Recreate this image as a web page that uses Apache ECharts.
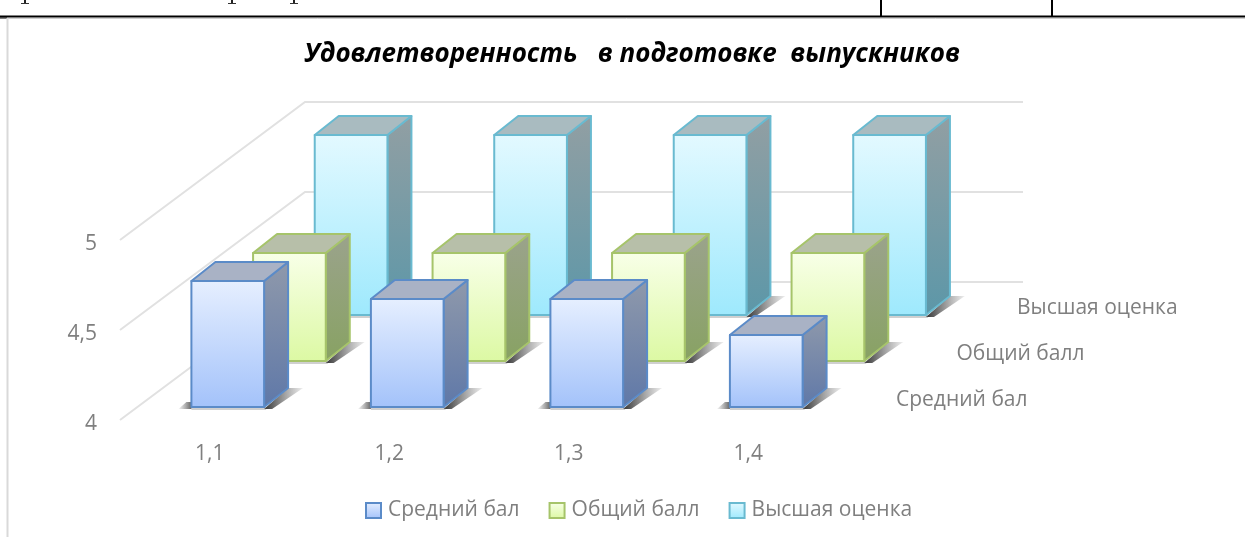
<!DOCTYPE html>
<html>
<head>
<meta charset="utf-8">
<style>html,body{margin:0;padding:0;background:#fff}#chart{width:1245px;height:537px}</style>
<script src="https://cdn.jsdelivr.net/npm/echarts@6/dist/echarts.min.js"></script>
</head>
<body>
<div id="chart"></div>
<script>
const categories = ['1,1', '1,2', '1,3', '1,4'];
const seriesNames = ['Средний бал', 'Общий балл', 'Высшая оценка'];
const srednij = [4.7, 4.6, 4.6, 4.4];
const obshij = [4.6, 4.6, 4.6, 4.6];
const vysshaya = [5, 5, 5, 5];
const yTicks = [4, 4.5, 5];

// front, top and side colours of each row
const palette = [
  { front: ['#e6efff', '#a3c2fa'], top: '#a9b2c5', side: ['#8f99ab', '#5f78a8'], line: '#5b8bc8' },
  { front: ['#f8ffe8', '#dcf9a3'], top: '#b7bfa9', side: ['#9ba38c', '#88a263'], line: '#a6c46a' },
  { front: ['#e3f9ff', '#9ee9fd'], top: '#a9bbc0', side: ['#929fa3', '#5c97a8'], line: '#69bad0' }
];

const font = '"Open Sans", sans-serif';
const grey = '#7f7f7f';

// the floor runs back up and to the right, split in 3 rows
const wallX = 185, wallY = -138;
const rowX = wallX / 3, rowY = wallY / 3;
const barNearX = 18, barNearY = -13;
const barDepthX = 24, barDepthY = -19;

const vgrad = (c) => new echarts.graphic.LinearGradient(0, 0, 0, 1, [
  { offset: 0, color: c[0] }, { offset: 1, color: c[1] }
]);
const hgrad = (a, b) => new echarts.graphic.LinearGradient(0, 0, 1, 0, [
  { offset: 0, color: a }, { offset: 1, color: b }
]);
const poly = (points, style) => ({ type: 'polygon', shape: { points: points }, style: style });

function renderBar(row) {
  return function (params, api) {
    const p = api.coord([api.value(0), api.value(1)]);
    const base = api.coord([api.value(0), 4]);
    const w = api.size([1, 0])[0] * 0.405;
    const c = palette[row];
    const x0 = p[0] + barNearX + rowX * row - w / 2;
    const x1 = x0 + w;
    const yb = base[1] + barNearY + rowY * row;
    const yt = p[1] + barNearY + rowY * row;
    const dx = barDepthX, dy = barDepthY;
    const line = { stroke: c.line, lineWidth: 2, lineJoin: 'round' };
    return {
      type: 'group',
      children: [
        // floor shadow, right, left and under the bar
        poly([[x1, yb + 2], [x1 + dx, yb + dy], [x1 + dx + 15, yb + dy], [x1 + 8, yb + 2]], {
          fill: hgrad('rgba(40,40,40,0.95)', 'rgba(90,90,90,0.1)')
        }),
        poly([[x0 - 13, yb + 2], [x0, yb + 2], [x0, yb - 5], [x0 - 5, yb - 5]], {
          fill: hgrad('rgba(90,90,90,0.05)', 'rgba(50,50,50,0.75)')
        }),
        poly([[x0, yb + 3], [x1 + 2, yb + 3], [x1 + 2, yb], [x0, yb]], { fill: 'rgba(120,120,120,0.35)' }),
        poly([[x1, yt], [x1 + dx, yt + dy], [x1 + dx, yb + dy], [x1, yb]], Object.assign({ fill: vgrad(c.side) }, line)),
        poly([[x0, yt], [x0 + dx, yt + dy], [x1 + dx, yt + dy], [x1, yt]], Object.assign({ fill: c.top }, line)),
        poly([[x0, yt], [x1, yt], [x1, yb], [x0, yb]], Object.assign({ fill: vgrad(c.front) }, line))
      ]
    };
  };
}

function renderGrid(params, api) {
  const y = api.coord([0, api.value(0)])[1];
  const left = params.coordSys.x;
  const right = left + params.coordSys.width;
  return {
    type: 'polyline',
    shape: { points: [[left, y], [left + wallX, y + wallY], [right + wallX, y + wallY]] },
    style: { fill: 'none', stroke: '#e1e1e1', lineWidth: 2 }
  };
}

function renderRowLabel(params, api) {
  const row = params.dataIndex;
  const right = params.coordSys.x + params.coordSys.width;
  const bottom = params.coordSys.y + params.coordSys.height;
  return {
    type: 'text',
    style: {
      text: seriesNames[row],
      x: right + 58 + 60.5 * row,
      y: bottom - 20 + rowY * row,
      fill: grey,
      font: '21px ' + font,
      textAlign: 'left',
      textVerticalAlign: 'middle'
    }
  };
}

const barSeries = [srednij, obshij, vysshaya].map((vals, row) => ({
  name: seriesNames[row],
  type: 'custom',
  z: 5 - row,
  silent: true,
  renderItem: renderBar(row),
  itemStyle: { color: palette[row].front[1] },
  data: vals.map((v, i) => [i, v])
}));

// cut off letters of the page text above the chart
const stems = [25, 232, 294];

const chart = echarts.init(document.getElementById('chart'));
chart.setOption({
  animation: false,
  title: {
    text: 'Удовлетворенность   в подготовке  выпускников',
    left: 627, top: 37, textAlign: 'center',
    textStyle: { fontFamily: font, fontSize: 26, fontWeight: 'bold', fontStyle: 'italic', color: '#000' }
  },
  legend: {
    left: 360, top: 495, icon: 'rect', itemWidth: 15, itemHeight: 15, itemGap: 29,
    textStyle: { fontFamily: font, fontSize: 21, color: grey, padding: [0, 0, 0, 2] },
    data: seriesNames.map((n, i) => ({
      name: n,
      itemStyle: { color: vgrad(palette[i].front), borderColor: palette[i].line, borderWidth: 2 }
    }))
  },
  grid: { left: 120, top: 240, width: 718, height: 180 },
  xAxis: {
    type: 'category', data: categories,
    axisLine: { show: false }, axisTick: { show: false },
    axisLabel: { color: grey, fontFamily: font, fontSize: 21, margin: 24 }
  },
  yAxis: {
    type: 'value', min: 4, max: 5, interval: 0.5,
    axisLine: { show: false }, axisTick: { show: false }, splitLine: { show: false },
    axisLabel: { color: grey, fontFamily: font, fontSize: 21, margin: 23, verticalAlign: 'top', lineHeight: 8, formatter: (v) => String(v).replace('.', ',') }
  },
  // bits of the page around the chart
  graphic: [
    { type: 'line', shape: { x1: 0, y1: 16.5, x2: 1245, y2: 16.5 }, style: { stroke: '#000', lineWidth: 2 } },
    { type: 'line', shape: { x1: 8, y1: 18.5, x2: 1245, y2: 18.5 }, style: { stroke: '#cfcfcf', lineWidth: 1 } },
    { type: 'line', shape: { x1: 0, y1: 18, x2: 7, y2: 18 }, style: { stroke: '#000', lineWidth: 1 } },
    { type: 'line', shape: { x1: 881, y1: 0, x2: 881, y2: 16 }, style: { stroke: '#000', lineWidth: 2 } },
    { type: 'line', shape: { x1: 1052, y1: 0, x2: 1052, y2: 16 }, style: { stroke: '#000', lineWidth: 2 } },
    { type: 'line', shape: { x1: 7.5, y1: 18, x2: 7.5, y2: 537 }, style: { stroke: '#d9d9d9', lineWidth: 2 } }
  ].concat(stems.flatMap((x) => [
    { type: 'line', shape: { x1: x, y1: 0, x2: x, y2: 3 }, style: { stroke: '#222', lineWidth: 2 } },
    { type: 'line', shape: { x1: x - 4, y1: 3.5, x2: x + 4, y2: 3.5 }, style: { stroke: '#333', lineWidth: 1 } }
  ])),
  series: [
    { type: 'custom', silent: true, z: 1, renderItem: renderGrid, data: yTicks.map((v) => [v]), encode: { y: 0 } },
    { type: 'custom', silent: true, z: 1, renderItem: renderRowLabel, data: seriesNames.map((n, i) => [i, 4]) }
  ].concat(barSeries)
});
</script>
</body>
</html>
